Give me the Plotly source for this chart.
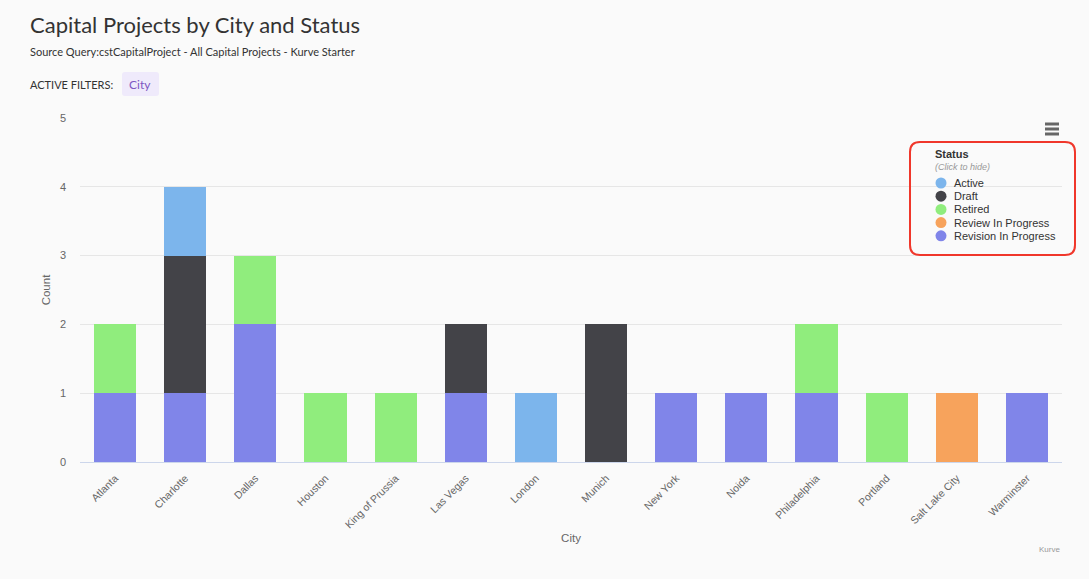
import plotly.graph_objects as go

# Data
cities = ["Atlanta", "Charlotte", "Dallas", "Houston", "King of Prussia", "Las Vegas",
          "London", "Munich", "New York", "Noida", "Philadelphia", "Portland",
          "Salt Lake City", "Warminster"]
active = [0, 1, 0, 0, 0, 0, 1, 0, 0, 0, 0, 0, 0, 0]
draft = [0, 2, 0, 0, 0, 1, 0, 2, 0, 0, 0, 0, 0, 0]
retired = [1, 0, 1, 1, 1, 0, 0, 0, 0, 0, 1, 1, 0, 0]
review = [0, 0, 0, 0, 0, 0, 0, 0, 0, 0, 0, 0, 1, 0]
revision = [1, 1, 2, 0, 0, 1, 0, 0, 1, 1, 1, 0, 0, 1]
statuses = ["Active", "Draft", "Retired", "Review In Progress", "Revision In Progress"]
colors = ["#7cb5ec", "#434348", "#90ed7d", "#f7a35c", "#8085e9"]
series = [active, draft, retired, review, revision]

W, H = 1089, 579
L, R, T, B = 80, 27, 118, 117
PW, PH = W - L - R, H - T - B


def px(x):
    return (x - L) / PW


def py(y):
    return (H - B - y) / PH


fig = go.Figure()
# stacked bottom-up: last status sits at the bottom
for name, vals, col in reversed(list(zip(statuses, series, colors))):
    fig.add_trace(go.Bar(
        x=cities, y=[v if v else None for v in vals], name=name,
        marker=dict(color=col, line=dict(width=0)),
        showlegend=False, legendgroup=name,
    ))

AX_FONT = "Liberation Sans, Arial, sans-serif"
TXT = "Lato, sans-serif"

fig.update_layout(
    width=W, height=H,
    margin=dict(l=L, r=R, t=T, b=B),
    paper_bgcolor="#fafafa", plot_bgcolor="#fafafa",
    barmode="stack", bargap=0.4,
    font=dict(family=AX_FONT, color="#666666", size=11),
    xaxis=dict(
        tickangle=-45, tickfont=dict(size=10.5, color="#666666"),
        showgrid=False, showline=True, linecolor="#ccd6eb", linewidth=1,
        ticks="", ticklabelstandoff=5,
        title=dict(text="City", font=dict(size=11.5, color="#666666"), standoff=4),
    ),
    yaxis=dict(
        range=[0, 5], dtick=1, tickfont=dict(size=11, color="#666666"),
        gridcolor="#e6e6e6", gridwidth=1, zeroline=False, showline=False,
        ticklabelstandoff=13,
        title=dict(text="Count", font=dict(size=11.5, color="#666666"), standoff=6),
    ),
)

ann = []
ann.append(dict(text="Capital Projects by City and Status", x=px(28), y=py(25),
                xanchor="left", yanchor="middle",
                font=dict(family=TXT, size=22, color="#333333")))
ann.append(dict(text="Source Query:cstCapitalProject - All Capital Projects - Kurve Starter",
                x=px(28), y=py(51), xanchor="left", yanchor="middle",
                font=dict(family=TXT, size=11, color="#333333")))
ann.append(dict(text="ACTIVE FILTERS:", x=px(28), y=py(84), xanchor="left", yanchor="middle",
                font=dict(family=TXT, size=11, color="#333333")))
ann.append(dict(text="City", x=px(140), y=py(84), xanchor="center", yanchor="middle",
                font=dict(family=TXT, size=12, color="#7e57c2")))
ann.append(dict(text="Kurve", x=px(1062), y=py(549), xanchor="right", yanchor="middle",
                font=dict(family=AX_FONT, size=8, color="#999999")))

# legend panel
ann.append(dict(text="<b>Status</b>", x=px(933), y=py(154), xanchor="left", yanchor="middle",
                font=dict(family=AX_FONT, size=11, color="#333333")))
ann.append(dict(text="<i>(Click to hide)</i>", x=px(933), y=py(167), xanchor="left",
                yanchor="middle", font=dict(family=AX_FONT, size=9, color="#999999")))

shapes = []
for i, (name, col) in enumerate(zip(statuses, colors)):
    yc = 183 + i * 13.2
    shapes.append(dict(type="circle", xref="paper", yref="paper",
                       xsizemode="pixel", ysizemode="pixel",
                       xanchor=px(941), yanchor=py(yc), x0=-5.5, x1=5.5, y0=-5.5, y1=5.5,
                       fillcolor=col, line=dict(width=0)))
    ann.append(dict(text=name, x=px(952), y=py(yc), xanchor="left", yanchor="middle",
                    font=dict(family=AX_FONT, size=11, color="#333333")))


def rounded_rect(x0, y0, x1, y1, r):
    a, b, c, d = px(x0), px(x1), py(y0), py(y1)
    rx, ry = r / PW, r / PH
    return (f"M {a+rx},{c} L {b-rx},{c} Q {b},{c} {b},{c-ry} "
            f"L {b},{d+ry} Q {b},{d} {b-rx},{d} L {a+rx},{d} Q {a},{d} {a},{d+ry} "
            f"L {a},{c-ry} Q {a},{c} {a+rx},{c} Z")


shapes.append(dict(type="path", xref="paper", yref="paper",
                   path=rounded_rect(910, 142, 1075, 255, 10),
                   line=dict(color="#f0372b", width=2), fillcolor="rgba(0,0,0,0)"))

# filter chip
shapes.append(dict(type="path", xref="paper", yref="paper", layer="below",
                   path=rounded_rect(122, 72, 159, 96, 3),
                   line=dict(width=0), fillcolor="#efeafb"))

# context menu icon
for yy in (124, 129, 134):
    shapes.append(dict(type="line", xref="paper", yref="paper",
                       x0=px(1045), x1=px(1059), y0=py(yy), y1=py(yy),
                       line=dict(color="#666666", width=3)))

for a in ann:
    a.update(xref="paper", yref="paper", showarrow=False)
fig.update_layout(annotations=ann, shapes=shapes)

fig.write_html("out.html")
